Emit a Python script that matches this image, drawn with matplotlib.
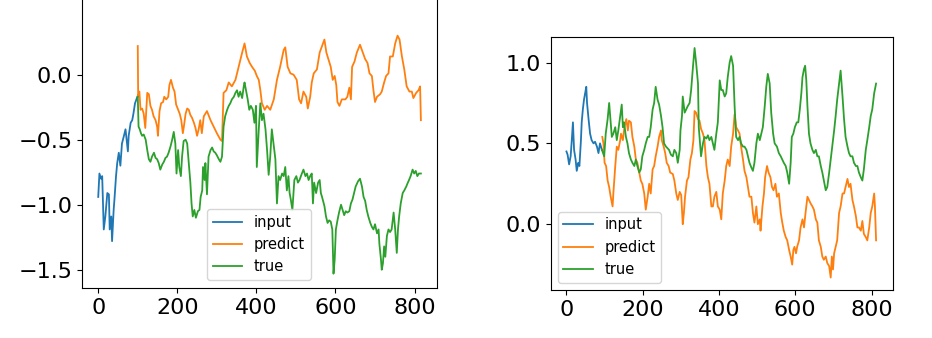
import numpy as np
import matplotlib.pyplot as plt

# (x, value) readings for each series
left_input = [(0, -0.94), (3, -0.76), (7, -0.80), (10, -0.78), (14, -1.19), (18, -1.09), (23, -0.91), (27, -0.92),
              (29, -1.19), (33, -1.09), (35, -1.28), (39, -1.04), (41, -0.96), (45, -0.78), (48, -0.68), (52, -0.60),
              (56, -0.70), (60, -0.53), (65, -0.47), (69, -0.42), (75, -0.59), (77, -0.47), (82, -0.37), (86, -0.35),
              (89, -0.30), (93, -0.22), (99, -0.17)]

left_predict = [(100, 0.22), (101, -0.17), (104, -0.13), (107, -0.27), (111, -0.26), (115, -0.30), (119, -0.41),
                (124, -0.14), (128, -0.15), (132, -0.24), (136, -0.27), (140, -0.32), (145, -0.35), (149, -0.40),
                (151, -0.47), (155, -0.28), (159, -0.22), (164, -0.21), (167, -0.17), (172, -0.19), (177, -0.17),
                (180, -0.08), (184, -0.04), (189, -0.10), (193, -0.13), (197, -0.23), (202, -0.27), (206, -0.30),
                (210, -0.35), (214, -0.45), (217, -0.39), (221, -0.30), (225, -0.26), (229, -0.27), (233, -0.31),
                (237, -0.33), (242, -0.37), (246, -0.41), (250, -0.47), (254, -0.42), (258, -0.35), (262, -0.45),
                (267, -0.32), (275, -0.28), (284, -0.35), (292, -0.40), (300, -0.45), (309, -0.50), (313, -0.51),
                (317, -0.14), (324, -0.12), (330, -0.06), (338, -0.09), (347, -0.04), (355, 0.06), (364, 0.17),
                (370, 0.24), (376, 0.14), (383, 0.09), (389, 0.06), (396, 0.03), (401, -0.01), (406, -0.04),
                (410, -0.12), (414, -0.22), (421, -0.27), (427, -0.24), (435, -0.27), (444, -0.19), (452, -0.04),
                (460, 0.06), (469, 0.19), (473, 0.21), (479, 0.06), (486, 0.01), (494, 0.00), (502, -0.04),
                (508, -0.19), (513, -0.22), (519, -0.13), (526, -0.17), (530, -0.26), (536, -0.17), (540, -0.06),
                (545, 0.01), (553, 0.04), (560, 0.17), (566, 0.22), (572, 0.27), (577, 0.17), (582, 0.12),
                (588, 0.06), (593, -0.04), (598, -0.01), (602, -0.08), (605, -0.21), (610, -0.24), (616, -0.19),
                (625, -0.19), (630, -0.17), (635, -0.10), (639, -0.19), (642, 0.06), (648, 0.10), (654, 0.17),
                (662, 0.23), (669, 0.17), (675, 0.12), (681, 0.09), (686, 0.01), (692, -0.01), (696, -0.12),
                (700, -0.21), (705, -0.17), (713, -0.15), (717, -0.13), (723, -0.06), (728, -0.01), (734, 0.01),
                (738, 0.14), (745, 0.14), (751, 0.24), (757, 0.30), (762, 0.27), (768, 0.14), (774, 0.04),
                (780, -0.09), (787, -0.13), (793, -0.13), (797, -0.18), (804, -0.14), (810, -0.12), (814, -0.09),
                (816, -0.35)]

left_true = [(100, -0.17), (102, -0.40), (105, -0.42), (108, -0.45), (111, -0.47), (115, -0.46), (120, -0.50),
             (124, -0.58), (128, -0.65), (132, -0.67), (136, -0.63), (141, -0.60), (145, -0.64), (149, -0.65),
             (153, -0.68), (157, -0.73), (162, -0.69), (166, -0.67), (170, -0.64), (174, -0.63), (178, -0.60),
             (183, -0.55), (187, -0.50), (191, -0.44), (195, -0.53), (198, -0.76), (202, -0.58), (205, -0.71),
             (209, -0.78), (212, -0.63), (216, -0.51), (221, -0.50), (225, -0.53), (229, -0.68), (233, -0.83),
             (236, -0.99), (239, -1.09), (243, -1.04), (247, -1.10), (252, -1.05), (256, -1.04), (259, -0.94),
             (263, -0.89), (265, -0.71), (269, -0.81), (271, -0.68), (275, -0.92), (279, -0.63), (284, -0.58),
             (288, -0.56), (292, -0.59), (296, -0.60), (300, -0.62), (305, -0.65), (309, -0.67), (313, -0.63),
             (317, -0.40), (321, -0.32), (326, -0.27), (330, -0.24), (334, -0.22), (338, -0.19), (343, -0.17),
             (347, -0.14), (351, -0.12), (355, -0.17), (359, -0.13), (364, -0.18), (368, -0.09), (370, -0.06),
             (375, -0.14), (378, -0.19), (382, -0.27), (386, -0.24), (391, -0.27), (395, -0.37), (399, -0.24),
             (401, -0.71), (406, -0.42), (410, -0.22), (414, -0.35), (418, -0.30), (423, -0.42), (427, -0.58),
             (431, -0.77), (435, -0.63), (439, -0.42), (444, -0.55), (448, -0.65), (452, -0.99), (456, -0.78),
             (460, -0.81), (465, -0.76), (469, -0.78), (473, -0.71), (477, -0.89), (481, -0.78), (484, -0.91),
             (487, -0.96), (491, -1.04), (496, -0.81), (501, -0.78), (505, -0.83), (509, -0.81), (515, -0.76),
             (519, -0.73), (524, -0.78), (528, -0.76), (532, -0.81), (536, -0.78), (540, -0.76), (543, -0.99),
             (546, -0.83), (551, -0.91), (556, -0.83), (560, -0.81), (563, -0.91), (566, -0.94), (572, -1.01),
             (576, -1.09), (580, -1.14), (584, -1.12), (588, -1.13), (592, -1.19), (595, -1.53), (598, -1.42),
             (601, -1.19), (605, -1.12), (609, -1.06), (614, -1.00), (618, -1.04), (622, -1.08), (626, -1.05),
             (630, -1.06), (635, -1.05), (639, -0.99), (643, -0.96), (647, -0.91), (651, -0.86), (657, -0.82),
             (662, -0.80), (667, -0.86), (671, -0.94), (675, -0.97), (679, -1.04), (683, -1.09), (688, -1.14),
             (692, -1.17), (696, -1.19), (700, -1.15), (705, -1.22), (709, -1.19), (711, -1.30), (715, -1.42),
             (717, -1.50), (720, -1.45), (723, -1.32), (726, -1.40), (730, -1.24), (734, -1.19), (738, -1.21),
             (742, -1.19), (747, -1.06), (751, -1.19), (755, -1.37), (758, -1.19), (761, -1.09), (765, -0.99),
             (770, -0.91), (774, -0.89), (779, -0.86), (783, -0.83), (786, -0.81), (790, -0.78), (795, -0.73),
             (799, -0.76), (803, -0.74), (807, -0.78), (811, -0.76), (816, -0.76)]

right_input = [(0, 0.45), (3, 0.43), (7, 0.37), (11, 0.42), (14, 0.52), (17, 0.63), (20, 0.46), (24, 0.40),
               (27, 0.33), (31, 0.38), (34, 0.36), (38, 0.52), (40, 0.63), (43, 0.71), (46, 0.77), (49, 0.81),
               (52, 0.85), (54, 0.75), (58, 0.65), (62, 0.56), (66, 0.52), (71, 0.50), (75, 0.51), (80, 0.48),
               (84, 0.44), (88, 0.50), (93, 0.46)]

right_predict = [(94, 0.54), (97, 0.50), (100, 0.38), (104, 0.36), (108, 0.27), (112, 0.23), (116, 0.17),
                 (121, 0.11), (123, 0.19), (128, 0.36), (132, 0.48), (136, 0.46), (141, 0.52), (143, 0.56),
                 (148, 0.52), (152, 0.60), (157, 0.65), (161, 0.58), (164, 0.64), (169, 0.63), (173, 0.54),
                 (178, 0.48), (182, 0.40), (186, 0.38), (191, 0.32), (195, 0.27), (199, 0.25), (204, 0.19),
                 (208, 0.09), (213, 0.17), (217, 0.25), (221, 0.19), (226, 0.34), (230, 0.36), (234, 0.42),
                 (239, 0.48), (243, 0.54), (248, 0.58), (250, 0.52), (255, 0.48), (259, 0.44), (263, 0.38),
                 (268, 0.36), (272, 0.32), (279, 0.31), (283, 0.27), (288, 0.19), (292, 0.15), (297, 0.20),
                 (301, 0.18), (305, 0.00), (308, 0.07), (311, 0.17), (316, 0.27), (320, 0.29), (325, 0.40),
                 (329, 0.44), (333, 0.52), (336, 0.70), (340, 0.69), (345, 0.65), (349, 0.64), (353, 0.59),
                 (358, 0.56), (362, 0.52), (367, 0.36), (371, 0.29), (375, 0.25), (380, 0.11), (384, 0.11),
                 (388, 0.17), (393, 0.20), (397, 0.11), (402, 0.09), (406, 0.03), (410, 0.19), (415, 0.27),
                 (419, 0.36), (423, 0.40), (428, 0.36), (432, 0.48), (437, 0.56), (441, 0.68), (445, 0.60),
                 (450, 0.58), (454, 0.56), (458, 0.48), (463, 0.40), (467, 0.33), (472, 0.29), (476, 0.23),
                 (480, 0.17), (485, 0.17), (489, 0.07), (493, 0.01), (498, 0.11), (502, 0.00), (507, 0.03),
                 (509, -0.04), (514, 0.11), (518, 0.19), (521, 0.29), (526, 0.36), (530, 0.32), (535, 0.29),
                 (539, 0.23), (543, 0.21), (548, 0.25), (552, 0.17), (557, 0.19), (562, 0.07), (566, 0.01),
                 (570, -0.04), (575, -0.08), (579, -0.10), (584, -0.16), (588, -0.20), (592, -0.25), (595, -0.16),
                 (598, -0.14), (602, -0.18), (605, -0.14), (610, -0.10), (614, -0.02), (619, 0.03), (623, -0.02),
                 (627, 0.07), (632, 0.17), (636, 0.15), (640, 0.13), (645, 0.11), (649, 0.09), (654, 0.03),
                 (658, 0.01), (662, -0.10), (667, -0.14), (671, -0.20), (675, -0.22), (680, -0.20), (684, -0.24),
                 (689, -0.26), (693, -0.33), (696, -0.20), (699, -0.28), (702, -0.18), (706, -0.14), (710, -0.10),
                 (715, 0.07), (719, 0.11), (724, 0.19), (728, 0.19), (732, 0.23), (737, 0.28), (741, 0.23),
                 (745, 0.25), (750, 0.15), (754, 0.11), (759, 0.05), (763, -0.02), (767, -0.02), (772, -0.04),
                 (776, 0.02), (780, -0.06), (785, -0.08), (789, -0.10), (794, -0.02), (798, 0.07), (802, 0.11),
                 (807, 0.19), (809, 0.11), (812, -0.10)]

right_true = [(93, 0.46), (99, 0.42), (103, 0.56), (108, 0.65), (112, 0.75), (116, 0.63), (119, 0.54),
              (123, 0.56), (128, 0.60), (132, 0.52), (136, 0.58), (141, 0.67), (145, 0.74), (148, 0.60),
              (151, 0.63), (156, 0.54), (160, 0.50), (164, 0.44), (169, 0.40), (173, 0.38), (178, 0.36),
              (182, 0.40), (186, 0.36), (191, 0.32), (195, 0.34), (199, 0.42), (204, 0.46), (208, 0.50),
              (213, 0.54), (217, 0.54), (221, 0.60), (226, 0.71), (230, 0.75), (234, 0.85), (239, 0.77),
              (243, 0.74), (248, 0.67), (252, 0.60), (256, 0.50), (261, 0.48), (265, 0.47), (269, 0.46),
              (274, 0.43), (279, 0.42), (283, 0.46), (288, 0.44), (292, 0.38), (297, 0.46), (299, 0.58),
              (303, 0.67), (305, 0.79), (310, 0.69), (314, 0.71), (318, 0.73), (323, 0.75), (327, 0.83),
              (332, 0.98), (336, 1.09), (340, 1.00), (345, 0.87), (347, 0.60), (351, 0.48), (353, 0.42),
              (358, 0.50), (362, 0.54), (367, 0.53), (371, 0.55), (375, 0.52), (380, 0.54), (384, 0.50),
              (388, 0.46), (393, 0.56), (397, 0.63), (402, 0.89), (406, 0.83), (410, 0.83), (415, 0.79),
              (419, 0.81), (423, 0.91), (428, 1.00), (432, 1.04), (437, 0.98), (441, 0.73), (445, 0.54),
              (450, 0.52), (454, 0.54), (458, 0.50), (463, 0.48), (467, 0.48), (472, 0.46), (476, 0.42),
              (480, 0.38), (485, 0.35), (489, 0.33), (493, 0.38), (498, 0.50), (502, 0.56), (507, 0.52),
              (511, 0.56), (515, 0.60), (520, 0.73), (524, 0.85), (528, 0.93), (533, 0.87), (537, 0.69),
              (542, 0.56), (546, 0.50), (552, 0.48), (557, 0.44), (562, 0.42), (566, 0.40), (570, 0.38),
              (575, 0.36), (579, 0.32), (584, 0.25), (588, 0.38), (591, 0.54), (595, 0.56), (599, 0.60),
              (604, 0.63), (608, 0.63), (612, 0.71), (616, 0.81), (619, 0.91), (623, 0.96), (626, 0.98),
              (629, 0.89), (632, 0.73), (636, 0.56), (640, 0.50), (645, 0.46), (649, 0.44), (654, 0.46),
              (658, 0.42), (662, 0.42), (667, 0.36), (671, 0.32), (675, 0.27), (680, 0.21), (684, 0.23),
              (689, 0.32), (693, 0.40), (697, 0.48), (702, 0.58), (706, 0.67), (710, 0.77), (715, 0.87),
              (719, 0.95), (724, 0.79), (728, 0.65), (732, 0.54), (737, 0.48), (741, 0.44), (745, 0.42),
              (750, 0.42), (754, 0.38), (759, 0.36), (763, 0.36), (767, 0.32), (772, 0.29), (776, 0.27),
              (780, 0.34), (785, 0.46), (789, 0.52), (794, 0.60), (798, 0.67), (802, 0.71), (807, 0.81),
              (812, 0.87)]

labels = ['input', 'predict', 'true']
colors = ['#1f77b4', '#ff7f0e', '#2ca02c']

fig = plt.figure(figsize=(9.32, 3.38), dpi=100)
# left panel runs past the top edge (cropped screenshot), so no top spine shows
ax1 = fig.add_axes([0.088, 0.148, 0.381, 0.862])
ax2 = fig.add_axes([0.591, 0.142, 0.367, 0.749])


def draw(ax, series, legend_xy):
    for data, lab, c in zip(series, labels, colors):
        xy = np.array(data)
        ax.plot(xy[:, 0], xy[:, 1], color=c, lw=1.3, label=lab)
    ax.tick_params(labelsize=16)
    ax.set_xticks([0, 200, 400, 600, 800])
    ax.legend(loc='lower left', bbox_to_anchor=legend_xy, borderaxespad=0, fontsize=10.5)


draw(ax1, [left_input, left_predict, left_true], (0.352, 0.027))
ax1.set_xlim(-41, 857)
ax1.set_ylim(-1.64, 0.60)
ax1.set_yticks([-1.5, -1.0, -0.5, 0.0])

draw(ax2, [right_input, right_predict, right_true], (0.02, 0.028))
ax2.set_xlim(-41, 856)
ax2.set_ylim(-0.407, 1.159)
ax2.set_yticks([0.0, 0.5, 1.0])

plt.savefig('out.png', dpi=100)
